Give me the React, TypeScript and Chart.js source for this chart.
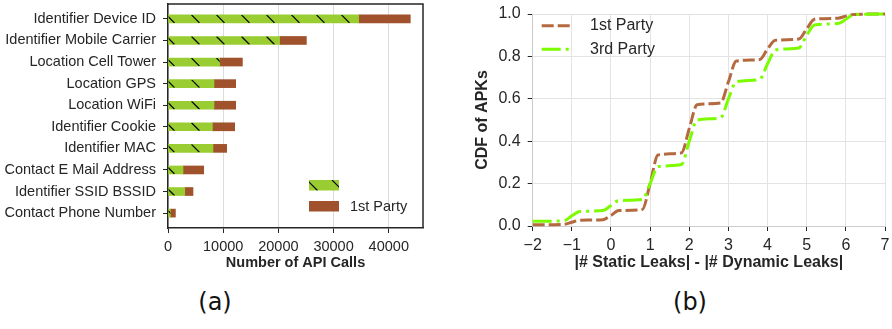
import React, { useEffect, useRef } from 'react';
import { Chart, registerables } from 'chart.js';

Chart.register(...registerables);

// ---------- Panel (a) data ----------
const categories = [
  'Identifier Device ID',
  'Identifier Mobile Carrier',
  'Location Cell Tower',
  'Location GPS',
  'Location WiFi',
  'Identifier Cookie',
  'Identifier MAC',
  'Contact E Mail Address',
  'Identifier SSID BSSID',
  'Contact Phone Number',
];
const thirdPartyCalls = [34550, 20230, 9370, 8330, 8330, 8040, 8150, 2720, 3030, 430];
const firstPartyCalls = [9350, 4840, 4110, 3930, 3930, 4040, 2480, 3750, 1500, 910];
const callTicks = [0, 10000, 20000, 30000, 40000];
const callTickLabels = ['0', '10000', '20000', '30000', '40000'];
const callMax = 46200;
const legendLabelsA = ['', '1st Party'];

// ---------- Panel (b) data ----------
const cdfX = [-2, -1.2, -1, -0.8, -0.2, 0, 0.2, 0.8, 1, 1.2, 1.8, 2, 2.2, 2.8, 3, 3.2, 3.8, 4, 4.2, 4.8, 5, 5.2, 5.8, 6, 6.2, 7];
const firstPartyCdf = [0.006, 0.008, 0.018, 0.027, 0.03, 0.05, 0.073, 0.078, 0.2, 0.335, 0.345, 0.46, 0.572, 0.58, 0.68, 0.778, 0.785, 0.835, 0.876, 0.882, 0.93, 0.975, 0.98, 0.99, 0.998, 1.0];
const thirdPartyCdf = [0.022, 0.025, 0.048, 0.068, 0.073, 0.097, 0.12, 0.125, 0.2, 0.28, 0.29, 0.4, 0.5, 0.51, 0.6, 0.68, 0.692, 0.765, 0.83, 0.84, 0.9, 0.948, 0.955, 0.975, 0.997, 1.0];
const diffTicks = [-2, -1, 0, 1, 2, 3, 4, 5, 6, 7];
const diffTickLabels = ['\u22122', '\u22121', '0', '1', '2', '3', '4', '5', '6', '7'];
const cdfTicks = [0, 0.2, 0.4, 0.6, 0.8, 1.0];
const cdfTickLabels = ['0.0', '0.2', '0.4', '0.6', '0.8', '1.0'];
const seriesNamesB = ['1st Party', '3rd Party'];

const FONT = "'Liberation Sans', Arial, Helvetica, sans-serif";
const TEXT = '#262626';
const GREEN = '#9acd32';
const BROWN = '#a0522d';
const LINE_BROWN = '#b5693f';
const LINE_GREEN = '#7cfc00';
const DASH_1 = [12, 4];
const DASH_3 = [19, 5, 3, 5];

function drawHatch(ctx: CanvasRenderingContext2D, left: number, top: number, right: number, bottom: number) {
  const h = bottom - top;
  ctx.save();
  ctx.beginPath();
  ctx.rect(left, top, right - left, h);
  ctx.clip();
  ctx.strokeStyle = '#000';
  ctx.lineWidth = 1.2;
  ctx.beginPath();
  for (let k = left - 2; k < right; k += 25) {
    ctx.moveTo(k, top);
    ctx.lineTo(k + h, bottom);
  }
  ctx.stroke();
  ctx.restore();
}

const hatchPlugin = {
  id: 'hatchA',
  afterDatasetsDraw(chart: any) {
    const meta = chart.getDatasetMeta(0);
    const ctx = chart.ctx;
    meta.data.forEach((bar: any) => {
      const p = bar.getProps(['x', 'y', 'base', 'height'], true);
      const left = Math.min(p.x, p.base);
      const right = Math.max(p.x, p.base);
      drawHatch(ctx, left, p.y - p.height / 2, right, p.y + p.height / 2);
    });
  },
};

const frameLegendA = {
  id: 'frameLegendA',
  afterDraw(chart: any) {
    const { ctx, chartArea: ca } = chart;
    ctx.save();
    ctx.strokeStyle = TEXT;
    ctx.lineWidth = 1.5;
    ctx.beginPath();
    ctx.moveTo(ca.left, ca.top);
    ctx.lineTo(ca.right, ca.top);
    ctx.lineTo(ca.right, ca.bottom);
    ctx.stroke();
    // legend (lower right)
    const bx = ca.right - 114;
    const rows = [ca.bottom - 48, ca.bottom - 27];
    const colors = [GREEN, BROWN];
    rows.forEach((ry, i) => {
      ctx.fillStyle = colors[i];
      ctx.fillRect(bx, ry, 30, 10.5);
      if (i === 0) drawHatch(ctx, bx, ry, bx + 30, ry + 10.5);
      ctx.fillStyle = TEXT;
      ctx.font = `14.5px ${FONT}`;
      ctx.textBaseline = 'middle';
      ctx.textAlign = 'left';
      ctx.fillText(legendLabelsA[i], bx + 41, ry + 5.5);
    });
    ctx.restore();
  },
};

const legendB = {
  id: 'legendB',
  afterDraw(chart: any) {
    const ctx = chart.ctx;
    const ca = chart.chartArea;
    ctx.save();
    const rows = [ca.top + 11.7, ca.top + 35.3];
    const cols = [LINE_BROWN, LINE_GREEN];
    const dashes = [DASH_1, DASH_3];
    rows.forEach((ry, i) => {
      ctx.strokeStyle = cols[i];
      ctx.lineWidth = 3;
      ctx.lineCap = 'butt';
      ctx.setLineDash(dashes[i]);
      ctx.beginPath();
      ctx.moveTo(ca.left + 9, ry);
      ctx.lineTo(ca.left + 38, ry);
      ctx.stroke();
      ctx.setLineDash([]);
      ctx.fillStyle = TEXT;
      ctx.font = `16px ${FONT}`;
      ctx.textBaseline = 'middle';
      ctx.textAlign = 'left';
      ctx.fillText(seriesNamesB[i], ca.left + 57.3, ry);
    });
    ctx.restore();
  },
};

function BarPanel() {
  const ref = useRef<HTMLCanvasElement>(null);
  useEffect(() => {
    if (!ref.current) return;
    const chart = new Chart(ref.current, {
      type: 'bar',
      data: {
        datasets: [
          {
            label: '3rd Party',
            data: thirdPartyCalls.map((v, i) => ({ x: v, y: i })),
            backgroundColor: GREEN,
            borderWidth: 0,
            barThickness: 8,
          },
          {
            label: '1st Party',
            data: firstPartyCalls.map((v, i) => ({ x: v, y: i })),
            backgroundColor: BROWN,
            borderWidth: 0,
            barThickness: 8,
          },
        ],
      } as any,
      options: {
        indexAxis: 'y',
        animation: false,
        responsive: false,
        layout: { padding: { left: 0, right: 17, top: 4, bottom: 8 } },
        plugins: { legend: { display: false }, tooltip: { enabled: false } },
        scales: {
          x: {
            type: 'linear',
            stacked: true,
            min: 0,
            max: callMax,
            afterBuildTicks: (s: any) => {
              s.ticks = callTicks.map((v) => ({ value: v }));
            },
            afterFit: (s: any) => {
              s.height = 44;
              s.paddingLeft = 0;
              s.paddingRight = 0;
            },
            grid: { color: '#dcdcdc', lineWidth: 1, tickColor: TEXT, tickLength: 5 },
            border: { display: true, color: TEXT, width: 1.5 },
            ticks: {
              font: { family: FONT, size: 14.5 },
              color: TEXT,
              padding: 5,
              callback: (_v: any, i: number) => callTickLabels[i],
            },
            title: {
              display: true,
              text: 'Number of API Calls',
              font: { family: FONT, size: 14.5, weight: 'bold' },
              color: TEXT,
              padding: { top: 0, bottom: 0 },
            },
          },
          y: {
            type: 'linear',
            stacked: true,
            reverse: true,
            offset: false,
            min: -0.69,
            max: 9.69,
            afterBuildTicks: (s: any) => {
              s.ticks = categories.map((_c, i) => ({ value: i }));
            },
            afterFit: (s: any) => {
              s.width = 168;
              s.paddingTop = 0;
              s.paddingBottom = 0;
            },
            grid: { offset: false, drawOnChartArea: false, tickColor: TEXT, tickLength: 5 },
            border: { display: true, color: TEXT, width: 1.5 },
            ticks: {
              autoSkip: false,
              font: { family: FONT, size: 14.5 },
              color: TEXT,
              padding: 7,
              callback: (_v: any, i: number) => categories[i],
            },
          },
        },
      } as any,
      plugins: [hatchPlugin, frameLegendA],
    });
    return () => chart.destroy();
  }, []);
  return (
    <canvas
      ref={ref}
      width={440}
      height={280}
      style={{ position: 'absolute', left: 0, top: 0, width: 440, height: 280, display: 'block' }}
    />
  );
}

function CdfPanel() {
  const ref = useRef<HTMLCanvasElement>(null);
  useEffect(() => {
    if (!ref.current) return;
    const chart = new Chart(ref.current, {
      type: 'line',
      data: {
        datasets: [
          {
            label: seriesNamesB[0],
            data: cdfX.map((x, i) => ({ x, y: firstPartyCdf[i] })),
            borderColor: LINE_BROWN,
            borderWidth: 3,
            borderDash: DASH_1,
            borderCapStyle: 'butt',
            pointRadius: 0,
            cubicInterpolationMode: 'monotone',
            fill: false,
            order: 2,
            clip: 8,
          },
          {
            label: seriesNamesB[1],
            data: cdfX.map((x, i) => ({ x, y: thirdPartyCdf[i] })),
            borderColor: LINE_GREEN,
            borderWidth: 3,
            borderDash: DASH_3,
            borderCapStyle: 'butt',
            pointRadius: 0,
            cubicInterpolationMode: 'monotone',
            fill: false,
            order: 1,
            clip: 8,
          },
        ],
      } as any,
      options: {
        animation: false,
        responsive: false,
        layout: { padding: { left: 0, right: 7, top: 14, bottom: 7.4 } },
        plugins: { legend: { display: false }, tooltip: { enabled: false } },
        scales: {
          x: {
            type: 'linear',
            min: -2,
            max: 7,
            afterBuildTicks: (s: any) => {
              s.ticks = diffTicks.map((v) => ({ value: v }));
            },
            afterFit: (s: any) => {
              s.height = 46.6;
              s.paddingLeft = 0;
              s.paddingRight = 0;
            },
            grid: { color: '#e3e3e3', lineWidth: 1, tickColor: TEXT, tickLength: 5 },
            border: { display: true, color: '#cccccc', width: 1 },
            ticks: {
              font: { family: FONT, size: 16 },
              color: TEXT,
              padding: 5,
              callback: (_v: any, i: number) => diffTickLabels[i],
            },
            title: {
              display: true,
              text: '|# Static Leaks| - |# Dynamic Leaks|',
              font: { family: FONT, size: 16, weight: 'bold' },
              color: TEXT,
              padding: { top: 0, bottom: 0 },
            },
          },
          y: {
            type: 'linear',
            min: 0,
            max: 1,
            afterBuildTicks: (s: any) => {
              s.ticks = cdfTicks.map((v) => ({ value: v }));
            },
            afterFit: (s: any) => {
              s.width = 92.7;
              s.paddingTop = 0;
              s.paddingBottom = 0;
            },
            grid: { color: '#e3e3e3', lineWidth: 1, tickColor: TEXT, tickLength: 5 },
            border: { display: true, color: '#cccccc', width: 1 },
            ticks: {
              font: { family: FONT, size: 16 },
              color: TEXT,
              padding: 7,
              callback: (_v: any, i: number) => cdfTickLabels[i],
            },
            title: {
              display: true,
              text: 'CDF of APKs',
              font: { family: FONT, size: 16, weight: 'bold' },
              color: TEXT,
              padding: { top: 33.4, bottom: 0 },
            },
          },
        },
      } as any,
      plugins: [legendB],
    });
    return () => chart.destroy();
  }, []);
  return (
    <canvas
      ref={ref}
      width={452}
      height={280}
      style={{ position: 'absolute', left: 440, top: 0, width: 452, height: 280, display: 'block' }}
    />
  );
}

const captionStyle: React.CSSProperties = {
  position: 'absolute',
  top: 287,
  width: 100,
  height: 30,
  lineHeight: '30px',
  textAlign: 'center',
  fontFamily: "'DejaVu Sans', sans-serif",
  fontSize: 24,
  color: '#111',
};

export default function App() {
  return (
    <div style={{ position: 'absolute', left: 0, top: 0, width: 892, height: 329, background: '#fff', overflow: 'hidden' }}>
      <BarPanel />
      <CdfPanel />
      <div style={{ ...captionStyle, left: 165 }}>(a)</div>
      <div style={{ ...captionStyle, left: 640 }}>(b)</div>
    </div>
  );
}
